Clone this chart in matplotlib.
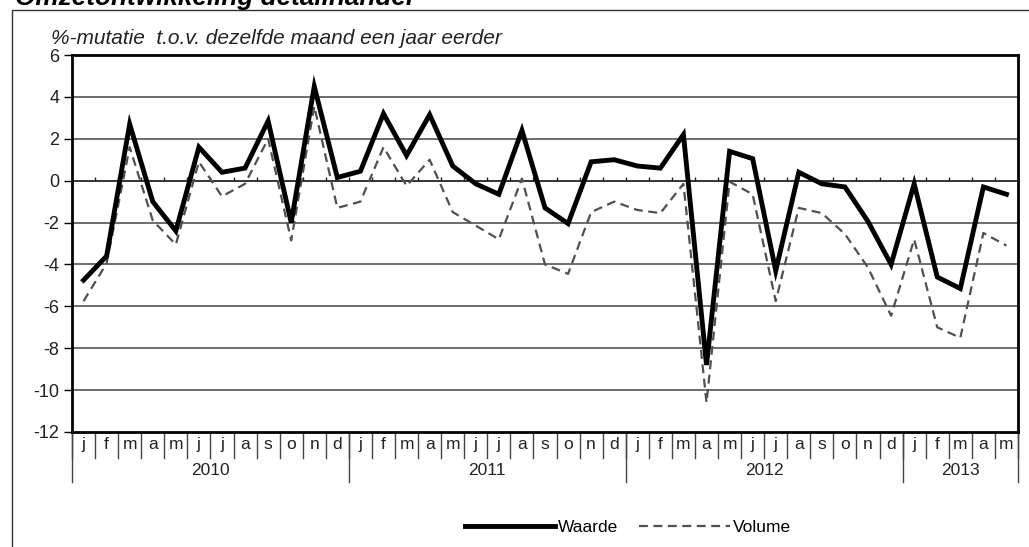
import numpy as np
import matplotlib.pyplot as plt
from matplotlib.patches import Rectangle
from matplotlib.transforms import blended_transform_factory

plt.rcParams['font.family'] = ['Liberation Sans', 'DejaVu Sans']
plt.rcParams['axes.unicode_minus'] = False

months = ["j", "f", "m", "a", "m", "j", "j", "a", "s", "o", "n", "d"]
years = ["2010", "2011", "2012", "2013"]
months_per_year = [12, 12, 12, 5]

# %-mutatie t.o.v. dezelfde maand een jaar eerder, jan 2010 - mei 2013
waarde = [-4.75, -3.6, 2.7, -1.0, -2.4, 1.6, 0.4, 0.6, 2.85, -2.0, 4.5, 0.15,
          0.45, 3.2, 1.2, 3.15, 0.7, -0.15, -0.65, 2.4, -1.3, -2.05, 0.9, 1.0,
          0.7, 0.6, 2.2, -8.8, 1.4, 1.05, -4.3, 0.4, -0.15, -0.3, -1.95, -4.0,
          -0.15, -4.6, -5.15, -0.3, -0.65]
volume = [-5.75, -3.95, 1.6, -1.9, -3.05, 0.9, -0.75, -0.15, 2.0, -2.85, 3.55, -1.3,
          -1.0, 1.6, -0.25, 1.0, -1.5, -2.15, -2.8, 0.1, -4.0, -4.45, -1.5, -1.0,
          -1.4, -1.55, -0.15, -10.6, -0.05, -0.65, -5.75, -1.3, -1.55, -2.55, -4.15, -6.45,
          -2.8, -7.0, -7.5, -2.5, -3.1]

n = len(waarde)
x = np.arange(n) + 0.5

fig = plt.figure(figsize=(10.29, 5.47), dpi=100)
ax = fig.add_axes([72 / 1029, 1 - 432 / 547, (1018 - 72) / 1029, (432 - 55) / 547])

ax.set_xlim(0, n)
ax.set_ylim(-12, 6)
ax.set_yticks(np.arange(-12, 7, 2))
for yv in np.arange(-10, 6, 2):
    ax.axhline(yv, color="#555555" if yv != 0 else "#111111", lw=1.2, zorder=1)

ax.plot(x, volume, color="#505050", lw=1.6, linestyle=(0, (4, 2.5)), label="Volume", zorder=3)
ax.plot(x, waarde, color="black", lw=3.5, label="Waarde", zorder=4, solid_joinstyle="miter")

# small ticks on the zero line
ax.vlines(np.arange(1, n), 0, 0.18, color="#222222", lw=1, zorder=2)

ax.set_xticks([])
ax.tick_params(axis="y", labelsize=13, labelcolor="#222222", length=6, width=1,
               direction="out", pad=3)
for s in ax.spines.values():
    s.set_linewidth(2)

# month labels and separators below the axis
tr = blended_transform_factory(ax.transData, ax.transAxes)
for i in range(n):
    ax.text(i + 0.5, -0.034, months[i % 12], transform=tr, ha="center", va="center",
            fontsize=12.5, color="#222222")
for i in range(n + 1):
    ax.plot([i, i], [0, -0.069], transform=tr, color="#444444", lw=1, clip_on=False)

start = 0
for yr, cnt in zip(years, months_per_year):
    ax.plot([start, start], [0, -0.133], transform=tr, color="#444444", lw=1, clip_on=False)
    ax.text(start + cnt / 2, -0.101, yr, transform=tr, ha="center", va="center",
            fontsize=12.5, color="#222222")
    start += cnt
ax.plot([n, n], [0, -0.133], transform=tr, color="#444444", lw=1, clip_on=False)

fig.text(51 / 1029, 1 - 44 / 547, "%-mutatie  t.o.v. dezelfde maand een jaar eerder",
         fontsize=15, style="italic", color="#222222", va="baseline", ha="left")
fig.text(15 / 1029, 1 - 5 / 547, "Omzetontwikkeling detailhandel", fontsize=18.8,
         weight="bold", style="italic", va="baseline", ha="left")

fig.patches.append(Rectangle((12 / 1029, -0.1), 1.2, 1.1 - 10 / 547, transform=fig.transFigure,
                             fill=False, lw=1, edgecolor="#333333"))

h, l = ax.get_legend_handles_labels()
leg = fig.legend(h[::-1], l[::-1], loc="center", bbox_to_anchor=(628 / 1029, 1 - 527 / 547),
                 ncol=2, frameon=False, fontsize=12.5, handlelength=5.2, columnspacing=1.2,
                 handletextpad=0.2)

fig.savefig("out.png", dpi=100, facecolor="white")
